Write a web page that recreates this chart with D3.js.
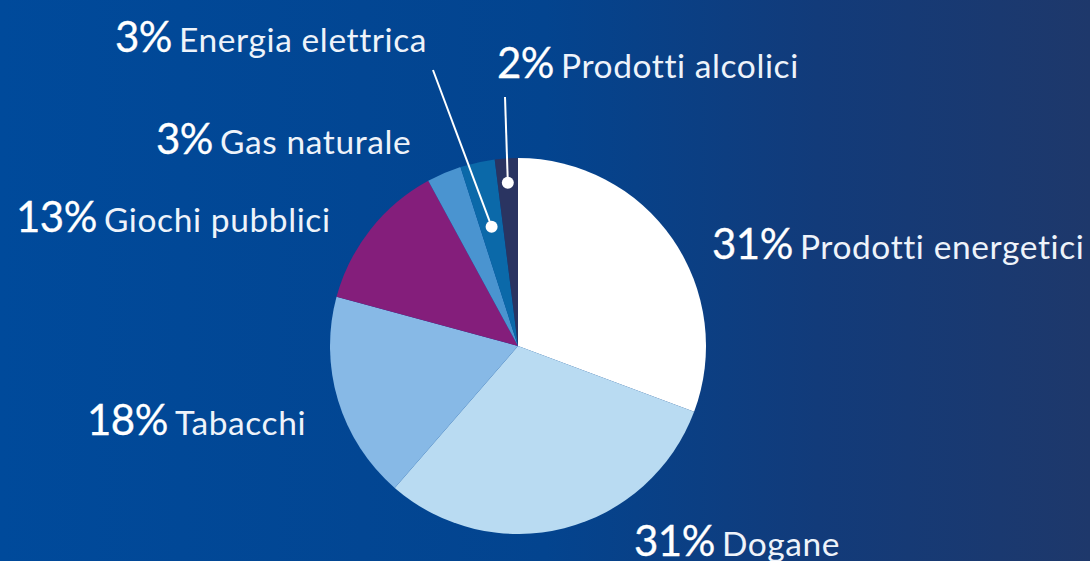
<!DOCTYPE html>
<html lang="it">
<head>
<meta charset="utf-8">
<title>Ripartizione entrate</title>
<script src="https://d3js.org/d3.v7.min.js"></script>
<style>
  html, body { margin: 0; padding: 0; overflow: hidden; }
  svg { display: block; font-family: Lato, "Open Sans", sans-serif; font-variant-ligatures: none; }
  .pct { font-size: 42px; fill: #fff; stroke: #fff; stroke-width: 0.3px; letter-spacing: -0.5px; }
  .lbl { font-size: 33.5px; fill: #eef3fa; letter-spacing: 0.6px; }
  .leader { stroke: #fff; stroke-width: 2px; fill: none; }
  .dot { fill: #fff; }
</style>
</head>
<body>
<svg width="1090" height="561"></svg>
<script>
// values (clockwise from 12 o'clock)
const categories = ["Prodotti energetici", "Dogane", "Tabacchi", "Giochi pubblici", "Gas naturale", "Energia elettrica", "Prodotti alcolici"];
const shares = [31, 31, 18, 13, 3, 3, 2];
const colors = ["#ffffff", "#b9dbf2", "#87b9e6", "#841e7b", "#4a94d0", "#0b69a9", "#2a3461"];

// where each label starts (left edge, baseline) - layout only
const labelAt = [[712, 259], [634, 556], [87, 435], [16, 232], [156, 154], [115, 52], [497, 78]];

const w = 1090, h = 561;
const cx = 518, cy = 346, r = 188;

const svg = d3.select("svg");

// background
const defs = svg.append("defs");
const bg = defs.append("linearGradient").attr("id", "bg").attr("x1", 0).attr("x2", 1).attr("y1", 0).attr("y2", 0);
bg.append("stop").attr("offset", "0%").attr("stop-color", "#004a9b");
bg.append("stop").attr("offset", "50%").attr("stop-color", "#03448f");
bg.append("stop").attr("offset", "75%").attr("stop-color", "#123b7a");
bg.append("stop").attr("offset", "100%").attr("stop-color", "#1e386b");
svg.append("rect").attr("width", w).attr("height", h).attr("fill", "url(#bg)");

const data = categories.map((c, i) => ({ name: c, value: shares[i], color: colors[i] }));

const pie = d3.pie().value(d => d.value).sort(null);
const arcs = pie(data);
const arc = d3.arc().innerRadius(0).outerRadius(r);

const g = svg.append("g").attr("transform", `translate(${cx},${cy})`);

g.selectAll("path.slice")
  .data(arcs)
  .enter()
  .append("path")
  .attr("class", "slice")
  .attr("d", arc)
  .attr("fill", d => d.data.color);

// small slices get a leader line to a dot inside the slice
const leaders = [
  { i: 5, rr: 0.65, from: [433, 70] },
  { i: 6, rr: 0.87, from: [505, 97] }
];
leaders.forEach(l => {
  const a = arcs[l.i];
  const inner = d3.arc().innerRadius(0).outerRadius(r * l.rr * 2);
  const [px, py] = inner.centroid(a);
  svg.append("line").attr("class", "leader")
    .attr("x1", l.from[0]).attr("y1", l.from[1])
    .attr("x2", cx + px).attr("y2", cy + py);
  svg.append("circle").attr("class", "dot")
    .attr("cx", cx + px).attr("cy", cy + py).attr("r", 6);
});

// labels
const labels = svg.selectAll("text.label")
  .data(data)
  .enter()
  .append("text")
  .attr("class", "label")
  .attr("x", (d, i) => labelAt[i][0])
  .attr("y", (d, i) => labelAt[i][1]);

labels.append("tspan").attr("class", "pct").text(d => d.value + "%");
labels.append("tspan").attr("class", "lbl").attr("dx", 7).text(d => d.name);
</script>
</body>
</html>
